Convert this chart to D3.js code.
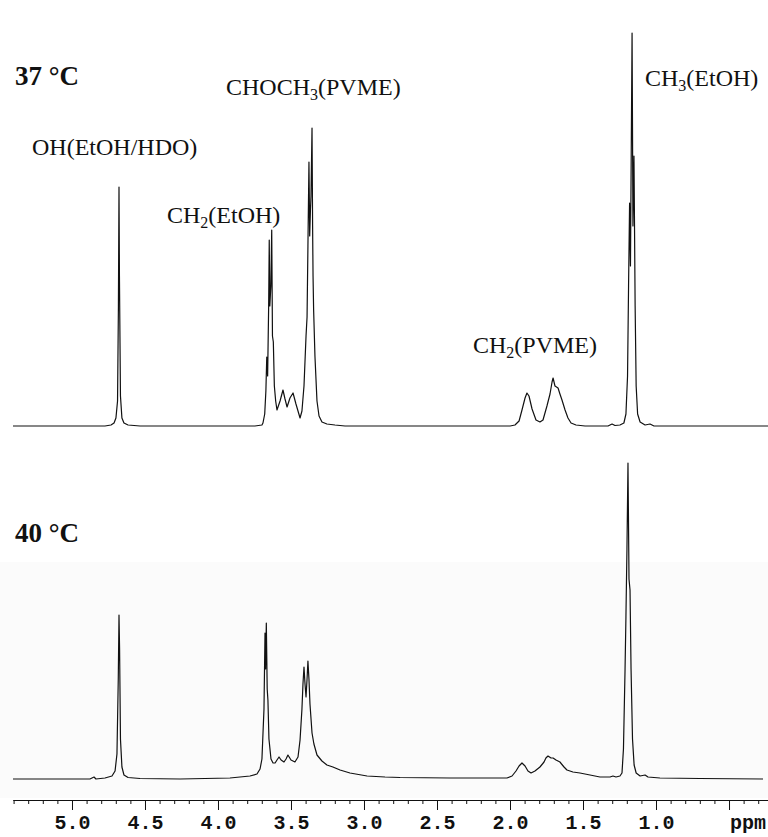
<!DOCTYPE html>
<html lang="en">
<head>
<meta charset="UTF-8">
<title>1H NMR PVME / EtOH</title>
<style>
    body { margin: 0; background: #fff; }
    svg { display: block; }
    .spec { fill: none; stroke: #111; stroke-width: 1.2px; stroke-linejoin: round; }
    .lbl { font-family: "Liberation Serif", "Times New Roman", serif; font-size: 24px; fill: #111; }
    .temp { font-family: "Liberation Serif", "Times New Roman", serif; font-size: 27px; font-weight: bold; fill: #111; }
    .axis text { font-family: "Liberation Mono", "Courier New", monospace; font-size: 20px; font-weight: bold; fill: #111; }
    .axis path, .axis line { stroke: #111; stroke-width: 1px; }
</style>
</head>
<body>
<svg width="768" height="837"></svg>
<script src="https://d3js.org/d3.v7.min.js"></script>
<script>
var spectrum37 = [
    [5.404,0],[4.774,0],[4.733,1],[4.712,3],[4.699,8],[4.688,25],[4.682,120],[4.678,239],[4.675,150],[4.668,30],
    [4.658,8],[4.644,3],[4.616,1],[4.534,0],
    [3.747,0],[3.699,1],[3.692,3],[3.680,12],[3.672,35],[3.666,69],[3.660,50],[3.653,120],[3.649,186],[3.645,120],
    [3.638,140],[3.632,196],[3.627,90],[3.621,84],[3.614,40],[3.605,25],[3.596,16],[3.575,25],[3.555,36],[3.541,27],
    [3.527,19],[3.507,28],[3.486,33],[3.466,22],[3.438,8],[3.425,15],[3.411,40],[3.397,90],[3.390,109],[3.384,180],
    [3.377,264],[3.372,190],[3.367,215],[3.363,230],[3.356,298],[3.352,200],[3.349,150],[3.345,116],[3.336,70],
    [3.322,25],[3.308,10],[3.288,4],[3.254,2],[3.199,1],[3.130,0],
    [1.999,0],[1.966,1],[1.938,5],[1.918,16],[1.897,28],[1.884,33],[1.870,30],[1.849,17],[1.822,6],[1.795,4],
    [1.774,6],[1.747,20],[1.726,32],[1.712,44],[1.705,48],[1.692,40],[1.671,38],[1.658,32],[1.644,26],[1.623,16],
    [1.603,8],[1.582,3],[1.548,1],[1.486,0],
    [1.329,0],[1.301,2],[1.281,0.5],[1.247,1],[1.220,3],[1.206,12],[1.195,50],[1.188,140],[1.181,223],[1.175,160],
    [1.164,393],[1.158,200],[1.151,270],[1.143,120],[1.136,40],[1.126,12],[1.109,4],[1.075,1],[1.041,2],[1.014,0],
    [0.233,0]
];

var spectrum40 = [
    [5.404,0],[4.877,0],[4.849,2],[4.836,0],[4.774,1],[4.726,3],[4.705,8],[4.692,25],[4.683,100],[4.678,164],
    [4.674,130],[4.668,40],[4.658,12],[4.644,4],[4.616,1.5],[4.534,0.5],[4.260,0],[3.918,1],[3.781,3],[3.733,5],
    [3.712,10],[3.699,20],[3.685,70],[3.678,146],[3.674,110],[3.669,156],[3.663,90],[3.658,79],[3.651,40],[3.637,20],
    [3.623,16],[3.609,16],[3.596,19],[3.582,22],[3.568,19],[3.548,17],[3.534,20],[3.521,24],[3.500,19],[3.473,17],
    [3.452,22],[3.438,39],[3.425,70],[3.418,95],[3.411,112],[3.404,95],[3.397,82],[3.390,100],[3.384,118],[3.377,100],
    [3.370,75],[3.356,46],[3.343,35],[3.322,24],[3.288,18],[3.254,14],[3.213,12],[3.164,9],[3.096,6],[2.979,3],
    [2.856,2],[2.753,1.5],[2.411,1],[2.021,1],[1.986,3],[1.959,8],[1.938,13],[1.918,16],[1.897,13],[1.877,8],
    [1.856,6],[1.829,8],[1.795,12],[1.767,17],[1.754,21],[1.740,23],[1.719,21],[1.705,21],[1.685,19],[1.658,17],
    [1.630,12],[1.610,9],[1.569,7],[1.521,6],[1.452,4],[1.384,2],[1.315,2],[1.295,3],[1.274,2],[1.247,3],
    [1.233,6],[1.223,30],[1.212,110],[1.206,162],[1.199,230],[1.192,316],[1.185,200],[1.178,189],[1.171,110],[1.161,40],
    [1.150,14],[1.136,6],[1.109,3],[1.075,4],[1.055,2],[0.973,1],[0.699,0.5],[0.267,0]
];

var majorTicks = [5.0, 4.5, 4.0, 3.5, 3.0, 2.5, 2.0, 1.5, 1.0, 0.5];
var majorLabels = ["5.0", "4.5", "4.0", "3.5", "3.0", "2.5", "2.0", "1.5", "1.0", ""];
var axisUnit = "ppm";
var temps = ["37 °C", "40 °C"];

var svg = d3.select("svg");

// faint grey cast on the lower half of the scan
svg.append("rect")
    .attr("x", 0).attr("y", 562)
    .attr("width", 768).attr("height", 236)
    .attr("fill", "#fbfbfb");

var x = d3.scaleLinear().domain([5.404, 0.233]).range([13, 768]);
var yTop = d3.scaleLinear().domain([0, 400]).range([426, 26]);
var yBot = d3.scaleLinear().domain([0, 400]).range([779, 379]);

function lineFor(y) {
    return d3.line()
        .x(function (d) { return x(d[0]); })
        .y(function (d) { return y(d[1]); });
}

svg.append("path").attr("class", "spec").attr("d", lineFor(yTop)(spectrum37));
svg.append("path").attr("class", "spec").attr("d", lineFor(yBot)(spectrum40));

// axis: minor ticks every 0.1 ppm, labelled ticks every 0.5
var minorTicks = d3.range(54, 2, -1).map(function (v) { return v / 10; })
    .filter(function (v) { return majorTicks.indexOf(v) < 0; });

svg.append("g")
    .attr("class", "axis")
    .attr("transform", "translate(0,800)")
    .call(d3.axisBottom(x).tickValues(minorTicks).tickSize(4).tickSizeOuter(0).tickFormat(""));

svg.append("g")
    .attr("class", "axis")
    .attr("transform", "translate(0,800)")
    .call(d3.axisBottom(x).tickValues(majorTicks).tickSize(10).tickSizeOuter(0).tickPadding(5)
        .tickFormat(function (d, i) { return majorLabels[i]; }));

svg.append("text")
    .attr("x", 766).attr("y", 829)
    .attr("text-anchor", "end")
    .style("font-family", "'Liberation Mono', 'Courier New', monospace")
    .style("font-size", "20px").style("font-weight", "bold")
    .style("fill", "#111")
    .text(axisUnit);

// temperature tags
svg.append("text").attr("class", "temp").attr("x", 15).attr("y", 85).text(temps[0]);
svg.append("text").attr("class", "temp").attr("x", 15).attr("y", 542).text(temps[1]);

// peak assignments: [main, subscript, rest]
var labels = [
    { parts: ["OH(EtOH/HDO)", "", ""], x: 32, y: 155 },
    { parts: ["CHOCH", "3", "(PVME)"], x: 226, y: 95 },
    { parts: ["CH", "2", "(EtOH)"], x: 167, y: 223 },
    { parts: ["CH", "2", "(PVME)"], x: 473, y: 353 },
    { parts: ["CH", "3", "(EtOH)"], x: 645, y: 86 }
];

labels.forEach(function (l) {
    var t = svg.append("text").attr("class", "lbl").attr("x", l.x).attr("y", l.y);
    t.append("tspan").text(l.parts[0]);
    if (l.parts[1]) {
        t.append("tspan").attr("dy", 5).style("font-size", "16px").text(l.parts[1]);
        t.append("tspan").attr("dy", -5).text(l.parts[2]);
    }
});
</script>
</body>
</html>
